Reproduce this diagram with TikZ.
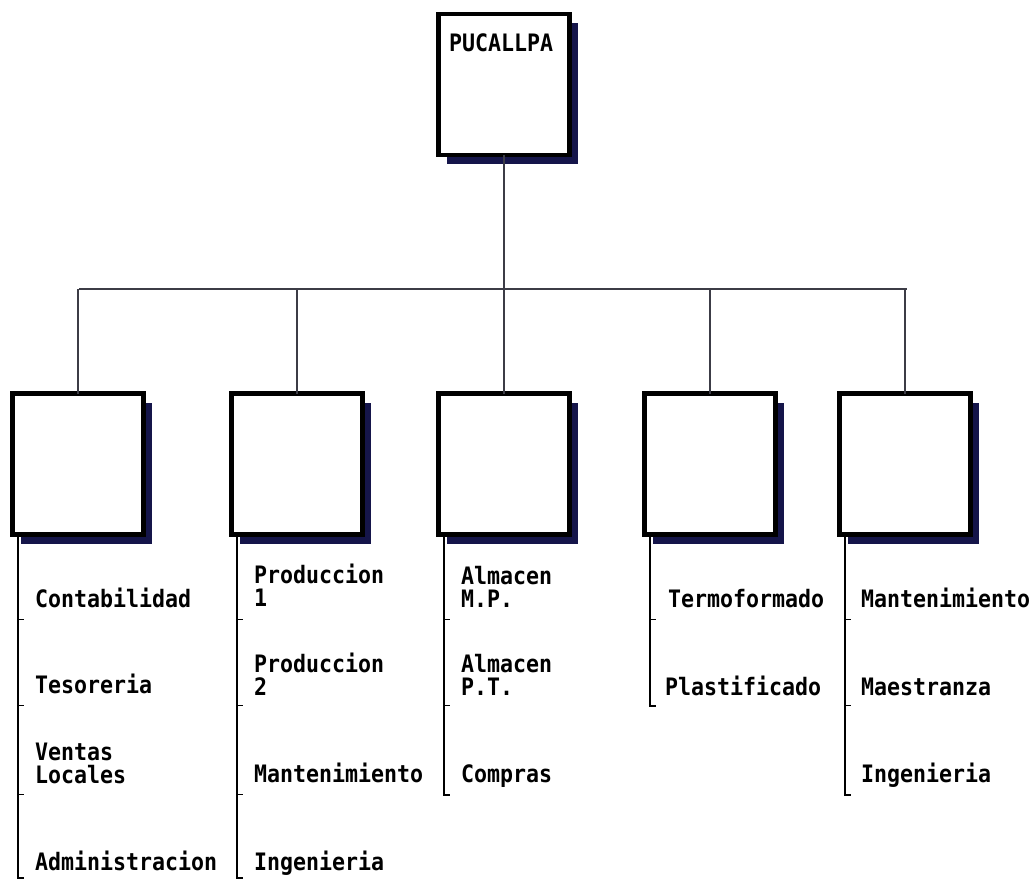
\documentclass[tikz,border=0pt]{standalone}
\usepackage{fontspec}
\newfontfamily\chartfont[FakeStretch=0.9]{DejaVu Sans Mono Bold}
\usetikzlibrary{shadows}
\definecolor{shade}{HTML}{15154A}
\definecolor{wire}{HTML}{3C3C46}
\begin{document}
\begin{tikzpicture}[x=1pt,y=-1pt,
  unitbox/.style={draw=black,line width=4.5pt,fill=white,minimum width=131pt,
    minimum height=141pt,inner sep=0pt,outer sep=0pt,
    drop shadow={shadow xshift=8pt,shadow yshift=-9pt,fill=shade,opacity=1}},
  bus/.style={draw=wire,line width=2pt},
  listline/.style={draw=black,line width=2pt},
  item/.style={font=\chartfont\fontsize{24}{22.5}\selectfont,inner sep=0pt,
    anchor=base west,align=left}]
\useasboundingbox (0,0) rectangle (1033,885);

% boxes
\node[unitbox] (top) at (504,84.5) {};
\node[unitbox] (b1) at (78,464) {};
\node[unitbox] (b2) at (297,464) {};
\node[unitbox] (b3) at (504,464) {};
\node[unitbox] (b4) at (710,464) {};
\node[unitbox] (b5) at (905,464) {};
\node[item] (title) at (449,52) {PUCALLPA};

% tree connectors
\coordinate (busL) at (79,289);
\coordinate (busR) at (907,289);
\draw[bus] (top.south) -- (b3.north);
\draw[bus] (busL) -- (busR);
\foreach \bx in {b1,b2,b4,b5}
  \draw[bus] (\bx.north |- busL) -- (\bx.north);

% department lists: a bracket line with ticks
\foreach \bx/\blen/\ticks in {b1/343/{85,171,260},b2/343/{85,171,260},
    b3/260/{85,171},b4/171/{85},b5/260/{85,171}}{
  \draw[listline] ([xshift=5pt]\bx.south west) coordinate (\bx-top)
    -- ++(0,\blen) coordinate (\bx-end) -- ++(6,0);
  \foreach \tk in \ticks
    \draw[listline,line width=1.5pt] ([yshift=-\tk pt]\bx-top) -- ++(6,0);
}

% list items (anchor on the baseline of the last line)
\node[item] (c1) at (35,607) {Contabilidad};
\node[item] (c2) at (35,693) {Tesoreria};
\node[item] (c3) at (35,783) {Ventas\\Locales};
\node[item] (c4) at (35,870) {Administracion};

\node[item] (p1) at (254,606) {Produccion\\1};
\node[item] (p2) at (254,695) {Produccion\\2};
\node[item] (p3) at (254,782) {Mantenimiento};
\node[item] (p4) at (254,870) {Ingenieria};

\node[item] (a1) at (461,607) {Almacen\\M.P.};
\node[item] (a2) at (461,695) {Almacen\\P.T.};
\node[item] (a3) at (461,782) {Compras};

\node[item] (t1) at (668,607) {Termoformado};
\node[item] (t2) at (665,695) {Plastificado};

\node[item] (m1) at (861,607) {Mantenimiento};
\node[item] (m2) at (861,695) {Maestranza};
\node[item] (m3) at (861,782) {Ingenieria};
\end{tikzpicture}
\end{document}
